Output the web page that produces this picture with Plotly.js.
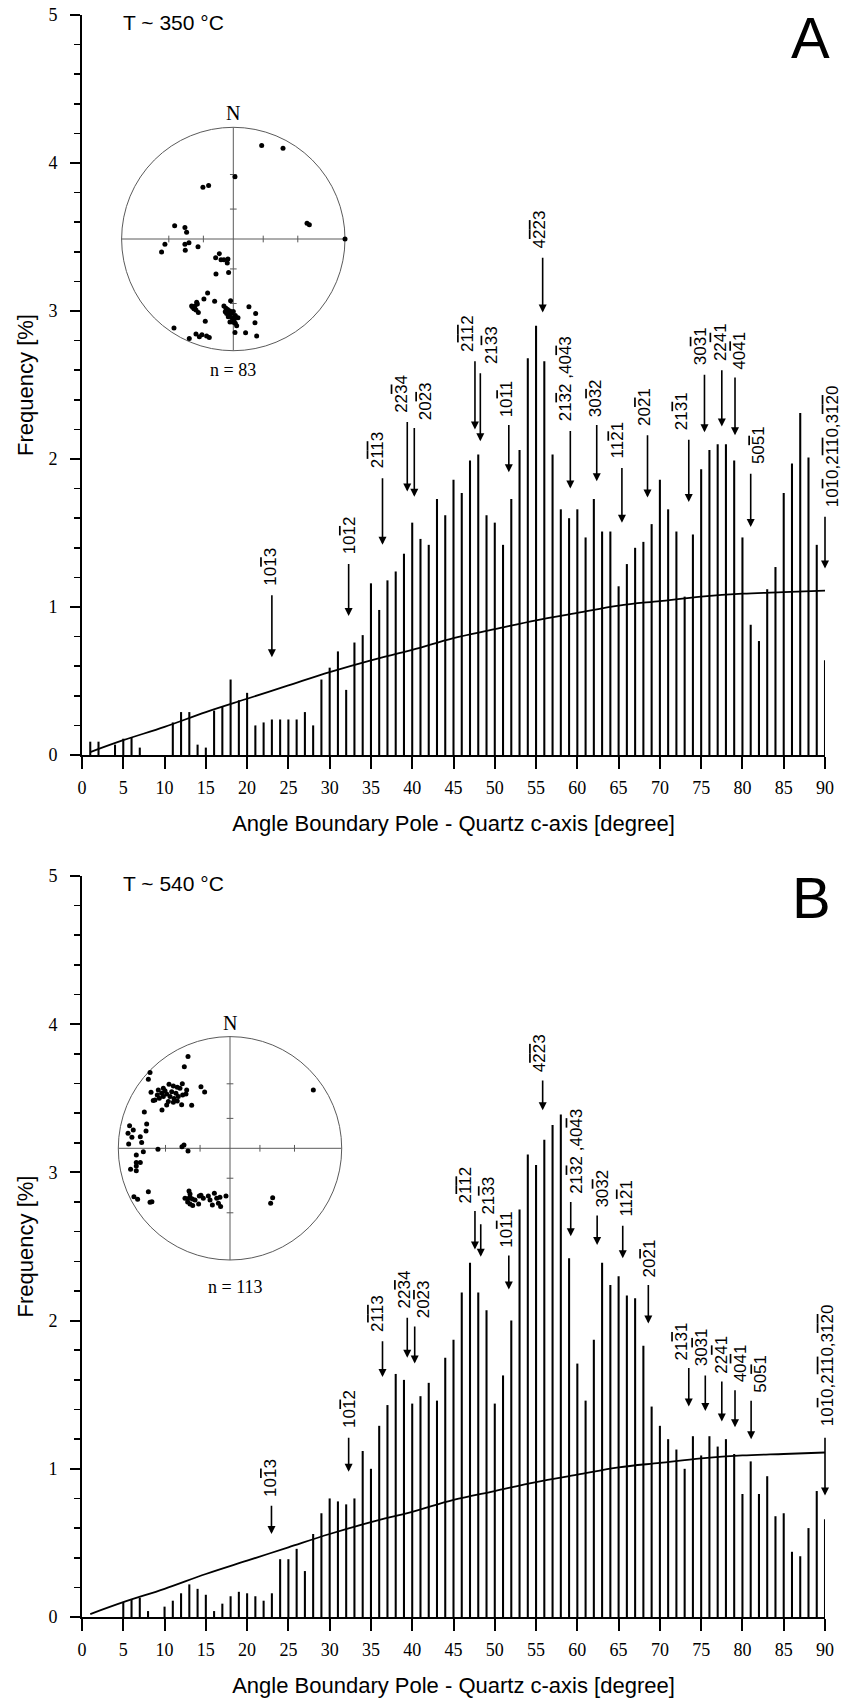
<!DOCTYPE html>
<html>
<head>
<meta charset="utf-8">
<script src="https://cdn.plot.ly/plotly-3.0.1.min.js"></script>
<style>html,body{margin:0;padding:0;background:#fff}</style>
</head>
<body>
<div id="chart" style="width:842px;height:1702px"></div>
<script>
// ---------------- DATA ----------------
const angles = [1,2,3,4,5,6,7,8,9,10,11,12,13,14,15,16,17,18,19,20,21,22,23,24,25,26,27,28,29,30,
  31,32,33,34,35,36,37,38,39,40,41,42,43,44,45,46,47,48,49,50,51,52,53,54,55,56,57,58,59,60,
  61,62,63,64,65,66,67,68,69,70,71,72,73,74,75,76,77,78,79,80,81,82,83,84,85,86,87,88,89,90];

// Panel A: T ~ 350 °C (frequency in %)
const freqA = [0.09,0.09,0,0.07,0.11,0.12,0.05,0,0,0,0.22,0.29,0.29,0.07,0.05,0.30,0.33,0.51,0.37,0.42,
  0.20,0.22,0.24,0.24,0.24,0.24,0.29,0.20,0.51,0.59,0.70,0.44,0.76,0.81,1.16,0.98,1.18,1.24,1.36,1.57,
  1.46,1.42,1.73,1.62,1.86,1.77,1.99,2.03,1.62,1.57,1.42,1.73,2.06,2.68,2.90,2.66,2.03,1.66,1.60,1.66,
  1.47,1.73,1.51,1.51,1.14,1.29,1.40,1.44,1.56,1.86,1.66,1.51,1.07,1.49,1.93,2.06,2.10,2.10,1.99,1.47,
  0.88,0.77,1.12,1.27,1.77,1.97,2.31,2.01,1.42,0.64];

// Panel B: T ~ 540 °C (frequency in %)
const freqB = [0,0,0,0,0.10,0.12,0.13,0.04,0,0.07,0.11,0.16,0.22,0.19,0.15,0.04,0.09,0.14,0.17,0.16,
  0.14,0.11,0.16,0.39,0.39,0.46,0.31,0.56,0.70,0.80,0.78,0.76,0.80,1.12,1.00,1.29,1.43,1.64,1.60,1.44,
  1.49,1.58,1.46,1.75,1.87,2.19,2.39,2.19,2.07,1.44,1.63,2.00,2.75,3.12,3.05,3.22,3.32,3.39,2.42,1.71,
  1.46,1.87,2.39,2.24,2.30,2.17,2.15,1.83,1.42,1.29,1.20,1.13,1.00,1.22,1.09,1.22,1.15,1.20,1.10,0.83,
  1.05,0.83,0.95,0.68,0.70,0.44,0.41,0.60,0.85,0.66];

// Random-distribution reference curve
const curveAngles = [1,5,10,15,20,25,30,35,40,45,50,55,60,65,70,75,80,85,90];
const curveA = [0.02,0.10,0.19,0.29,0.38,0.47,0.56,0.64,0.71,0.79,0.85,0.91,0.96,1.01,1.04,1.07,1.09,1.10,1.11];
const curveB = [0.02,0.10,0.19,0.29,0.38,0.47,0.56,0.64,0.71,0.79,0.85,0.91,0.96,1.01,1.04,1.07,1.09,1.10,1.11];

// Crystal plane labels (Miller-Bravais indices; a combining macron marks a negative index)
const M = '\u0304';
const planeLabels = [
  '101'+M+'3', '101'+M+'2', '21'+M+'1'+M+'3', '223'+M+'4', '202'+M+'3',
  '21'+M+'1'+M+'2', '213'+M+'3', '101'+M+'1', '42'+M+'2'+M+'3', '213'+M+'2 ,404'+M+'3',
  '303'+M+'2', '112'+M+'1', '202'+M+'1', '213'+M+'1', '303'+M+'1',
  '224'+M+'1', '404'+M+'1', '505'+M+'1', '101'+M+'0,21'+M+'1'+M+'0,31'+M+'2'+M+'0'
];
const planeAnglesA = [23.0,32.3,36.4,39.4,40.25,47.6,48.25,51.7,55.8,59.15,62.35,65.4,68.5,73.5,75.4,77.5,79.1,81.0,90];
const planeAnglesB = [22.95,32.3,36.4,39.4,40.3,47.6,48.3,51.7,55.8,59.2,62.4,65.5,68.6,73.5,75.5,77.5,79.1,81.05,90];

// Pole figures (stereographic, unit circle coords)
const stereoA = [[0.254,0.836],[0.445,0.812],[0.015,0.558],[-0.272,0.463],[-0.221,0.478],[0.660,0.140],[0.681,0.128],[1.000,0.000],
  [-0.525,0.119],[-0.433,0.104],[-0.418,0.060],[-0.612,-0.048],[-0.642,-0.116],[-0.433,-0.048],[-0.397,-0.033],[-0.430,-0.101],
  [-0.316,-0.069],[-0.125,-0.131],[-0.158,-0.167],[-0.110,-0.185],[-0.084,-0.185],[-0.048,-0.179],[-0.054,-0.215],[-0.155,-0.313],
  [-0.042,-0.299],[-0.230,-0.484],[-0.263,-0.537],[-0.167,-0.558],[-0.328,-0.567],[-0.364,-0.612],[-0.343,-0.600],[-0.322,-0.582],
  [-0.313,-0.657],[-0.352,-0.624],[-0.251,-0.737],[-0.024,-0.552],[-0.084,-0.600],[-0.072,-0.651],[-0.051,-0.630],[-0.030,-0.645],
  [0.000,-0.648],[-0.036,-0.681],[-0.009,-0.710],[0.018,-0.684],[0.042,-0.704],[-0.030,-0.743],[0.000,-0.746],[0.030,-0.776],
  [0.018,-0.755],[0.140,-0.606],[0.200,-0.666],[0.194,-0.749],[0.015,-0.836],[0.110,-0.839],[0.209,-0.869],[-0.531,-0.797],
  [-0.394,-0.890],[-0.334,-0.851],[-0.304,-0.875],[-0.281,-0.857],[-0.239,-0.869],[-0.215,-0.881],[-0.060,-0.666],[-0.045,-0.696],
  [-0.015,-0.666],[-0.066,-0.621],[0.009,-0.719],[-0.373,-0.600],[-0.334,-0.636]];
const stereoB = [[-0.376,0.821],[-0.409,0.731],[-0.716,0.678],[-0.731,0.618],[0.746,0.522],[-0.260,0.552],[-0.227,0.504],
  [-0.707,0.501],[-0.642,0.522],[-0.597,0.537],[-0.546,0.573],[-0.507,0.558],[-0.472,0.546],[-0.427,0.579],[-0.388,0.522],
  [-0.672,0.433],[-0.633,0.448],[-0.597,0.463],[-0.567,0.487],[-0.537,0.463],[-0.501,0.445],[-0.463,0.463],[-0.424,0.478],
  [-0.394,0.487],[-0.651,0.478],[-0.612,0.493],[-0.582,0.516],[-0.522,0.507],[-0.484,0.493],[-0.448,0.537],[-0.687,0.427],
  [-0.567,0.388],[-0.507,0.412],[-0.472,0.424],[-0.433,0.391],[-0.343,0.385],[-0.609,0.343],[-0.552,0.418],
  [-0.767,0.325],[-0.746,0.218],[-0.899,0.203],[-0.866,0.164],[-0.913,0.134],[-0.878,0.099],[-0.803,0.104],[-0.752,0.155],
  [-0.907,0.039],[-0.791,0.051],[-0.645,-0.009],[-0.430,0.015],[-0.412,0.030],[-0.376,-0.024],[-0.776,-0.030],[-0.839,-0.060],
  [-0.839,-0.128],[-0.803,-0.128],[-0.890,-0.188],[-0.839,-0.158],[-0.839,-0.200],
  [-0.860,-0.433],[-0.827,-0.457],[-0.731,-0.388],[-0.716,-0.484],[-0.699,-0.478],
  [-0.367,-0.382],[-0.358,-0.409],[-0.403,-0.448],[-0.379,-0.451],[-0.358,-0.439],[-0.337,-0.454],[-0.313,-0.463],[-0.379,-0.481],
  [-0.358,-0.499],[-0.334,-0.513],[-0.275,-0.427],[-0.260,-0.421],[-0.281,-0.499],[-0.194,-0.427],[-0.179,-0.463],[-0.140,-0.403],
  [-0.158,-0.507],[-0.104,-0.493],[-0.090,-0.439],[-0.084,-0.522],[-0.036,-0.427],[-0.119,-0.448],[-0.239,-0.448],
  [0.364,-0.493],[0.382,-0.442]];
const stereoTickAngles = [30, 60];

// ---------------- LAYOUT GEOMETRY (positions only) ----------------
const arrowTipA  = [0.66,0.94,1.42,1.78,1.745,2.20,2.12,1.91,2.99,1.80,1.85,1.57,1.74,1.71,2.18,2.22,2.16,1.54,1.26];
const arrowTailA = [1.09,1.30,1.88,2.26,2.22,2.67,2.59,2.24,3.37,2.20,2.24,1.95,2.17,2.14,2.58,2.61,2.56,1.91,1.62];
const labelBaseA = [1.13,1.34,1.92,2.30,2.25,2.71,2.63,2.27,3.41,2.24,2.27,1.99,2.21,2.18,2.62,2.65,2.59,1.95,1.66];
const labelShiftA = [-1,1,-5.5,-6,11,-7.5,11,-2,-3.5,-4,-1.5,-3.5,-2.5,-7,-4.5,-1.5,5,8,7];
const arrowTipB  = [0.56,0.98,1.62,1.75,1.71,2.48,2.43,2.21,3.42,2.57,2.51,2.42,1.98,1.42,1.39,1.32,1.28,1.20,0.82];
const arrowTailB = [0.76,1.22,1.87,2.03,1.97,2.75,2.66,2.45,3.63,2.81,2.72,2.65,2.25,1.69,1.64,1.60,1.54,1.47,1.22];
const labelBaseB = [0.80,1.26,1.91,2.07,2.00,2.78,2.70,2.48,3.66,2.84,2.75,2.69,2.28,1.72,1.68,1.63,1.57,1.50,1.27];
const labelShiftB = [-1,1,-5,-3,9,-9,8,-2,-3,5.5,5,4,1,-7.5,-4,-0.5,5,10,2.5];

const W = 842, H = 1702;
const MG = {l: 82, r: 17, t: 15, b: 85};
const PW = W - MG.l - MG.r, PH = H - MG.t - MG.b;
const px = x => (x - MG.l) / PW;
const py = y => (H - MG.b - y) / PH;

const SANS = 'Liberation Sans, Arial, sans-serif';
const SERIF = 'Liberation Serif, Times New Roman, serif';
const R = 111.7, PAD = 1.05;
function insetDomain(cx, cy) {
  const h = R * PAD;
  return {x: [px(cx - h), px(cx + h)], y: [py(cy + h), py(cy - h)]};
}
const insA = insetDomain(233.3, 239.0);
const insB = insetDomain(230.0, 1148.3);

function mainX(anchor) {
  return {
    anchor: anchor, range: [0, 90], tick0: 0, dtick: 5, ticks: 'outside', ticklen: 12, tickwidth: 2,
    tickcolor: '#000', showline: true, linewidth: 2, linecolor: '#000', showgrid: false, zeroline: false,
    tickfont: {family: SERIF, size: 18, color: '#000'}, ticklabelstandoff: 3,
    title: {text: 'Angle Boundary Pole - Quartz c-axis [degree]', font: {family: SANS, size: 22, color: '#000'}, standoff: 19}
  };
}
function mainY(anchor, dom) {
  return {
    anchor: anchor, domain: dom, range: [0, 5], tick0: 0, dtick: 1, ticks: 'outside', ticklen: 10, tickwidth: 2,
    tickcolor: '#000', showline: true, linewidth: 2, linecolor: '#000', showgrid: false, zeroline: false,
    minor: {dtick: 0.2, ticklen: 6, tickwidth: 1.6, tickcolor: '#000', ticks: 'outside', showgrid: false},
    tickfont: {family: SERIF, size: 18, color: '#000'}, ticklabelstandoff: 9,
    title: {text: 'Frequency [%]', font: {family: SANS, size: 22, color: '#000'}, standoff: 9}
  };
}
function insetAxis(anchor, dom) {
  return {anchor: anchor, domain: dom, range: [-PAD, PAD], visible: false, fixedrange: true};
}

// ---------------- TRACES ----------------
const traces = [
  {type: 'bar', x: angles, y: freqA, xaxis: 'x', yaxis: 'y', width: 0.25, cliponaxis: false,
   marker: {color: '#000', line: {width: 0}}, hoverinfo: 'skip'},
  {type: 'scatter', mode: 'lines', x: curveAngles, y: curveA, xaxis: 'x', yaxis: 'y',
   line: {color: '#000', width: 1.8, shape: 'spline', smoothing: 1}, hoverinfo: 'skip'},
  {type: 'bar', x: angles, y: freqB, xaxis: 'x2', yaxis: 'y2', width: 0.25, cliponaxis: false,
   marker: {color: '#000', line: {width: 0}}, hoverinfo: 'skip'},
  {type: 'scatter', mode: 'lines', x: curveAngles, y: curveB, xaxis: 'x2', yaxis: 'y2',
   line: {color: '#000', width: 1.8, shape: 'spline', smoothing: 1}, hoverinfo: 'skip'},
  {type: 'scatter', mode: 'markers', x: stereoA.map(p => p[0]), y: stereoA.map(p => p[1]), xaxis: 'x3', yaxis: 'y3',
   marker: {color: '#000', size: 5}, cliponaxis: false, hoverinfo: 'skip'},
  {type: 'scatter', mode: 'markers', x: stereoB.map(p => p[0]), y: stereoB.map(p => p[1]), xaxis: 'x4', yaxis: 'y4',
   marker: {color: '#000', size: 5}, cliponaxis: false, hoverinfo: 'skip'}
];

// ---------------- SHAPES (pole-figure frame) ----------------
function stereoShapes(xr, yr) {
  const ln = {color: '#5a5a5a', width: 1};
  const s = [
    {type: 'circle', xref: xr, yref: yr, x0: -1, y0: -1, x1: 1, y1: 1, line: ln, layer: 'below'},
    {type: 'line', xref: xr, yref: yr, x0: -1, y0: 0, x1: 1, y1: 0, line: ln, layer: 'below'},
    {type: 'line', xref: xr, yref: yr, x0: 0, y0: -1, x1: 0, y1: 1, line: ln, layer: 'below'}
  ];
  stereoTickAngles.forEach(a => {
    const r = Math.tan(a * Math.PI / 360);
    [-1, 1].forEach(sg => {
      s.push({type: 'line', xref: xr, yref: yr, x0: sg * r, x1: sg * r, y0: -0.03, y1: 0.03, line: ln, layer: 'below'});
      s.push({type: 'line', xref: xr, yref: yr, y0: sg * r, y1: sg * r, x0: -0.03, x1: 0.03, line: ln, layer: 'below'});
    });
  });
  return s;
}

// ---------------- ANNOTATIONS ----------------
// negative index: draw the macron as an overline on the digit
const withBars = s => s.replace(/(.)\u0304/g, '<span style="text-decoration:overline">$1</span>');

function planeAnnotations(xr, yr, ang, tip, tail, base, shift) {
  const out = [];
  planeLabels.forEach((t, i) => {
    out.push({xref: xr, yref: yr, axref: xr, ayref: yr, x: ang[i], y: tip[i], ax: ang[i], ay: tail[i],
      text: '', showarrow: true, arrowhead: 2, arrowsize: 1, arrowwidth: 1.6, arrowcolor: '#000', standoff: 0,
      font: {size: 1}});
    out.push({xref: xr, yref: yr, x: ang[i], y: base[i], xshift: shift[i], text: withBars(t), showarrow: false,
      textangle: -90, xanchor: 'center', yanchor: 'bottom', font: {family: SANS, size: 17, color: '#000'}});
  });
  return out;
}
function paperText(x, y, text, font, xanchor) {
  return {xref: 'paper', yref: 'paper', x: px(x), y: py(y), text: text, showarrow: false,
    xanchor: xanchor || 'center', yanchor: 'middle', font: font};
}

const annotations = []
  .concat(planeAnnotations('x', 'y', planeAnglesA, arrowTipA, arrowTailA, labelBaseA, labelShiftA))
  .concat(planeAnnotations('x2', 'y2', planeAnglesB, arrowTipB, arrowTailB, labelBaseB, labelShiftB))
  .concat([
    paperText(121, 22, 'T ~ 350 °C', {family: SANS, size: 21, color: '#000'}, 'left'),
    paperText(121, 883, 'T ~ 540 °C', {family: SANS, size: 21, color: '#000'}, 'left'),
    paperText(810, 37, 'A', {family: SANS, size: 58, color: '#000'}),
    paperText(811, 897, 'B', {family: SANS, size: 58, color: '#000'}),
    paperText(233.3, 113.3, 'N', {family: SERIF, size: 20, color: '#000'}),
    paperText(233.3, 370, 'n = 83', {family: SERIF, size: 18, color: '#000'}),
    paperText(230, 1023.3, 'N', {family: SERIF, size: 20, color: '#000'}),
    paperText(235, 1286.7, 'n = 113', {family: SERIF, size: 18, color: '#000'})
  ]);

const layout = {
  width: W, height: H, margin: MG, paper_bgcolor: '#fff', plot_bgcolor: 'rgba(0,0,0,0)',
  showlegend: false, font: {family: SANS, color: '#000'},
  xaxis: mainX('y'), yaxis: mainY('x', [py(755), 1]),
  xaxis2: mainX('y2'), yaxis2: mainY('x2', [0, py(876)]),
  xaxis3: insetAxis('y3', insA.x), yaxis3: insetAxis('x3', insA.y),
  xaxis4: insetAxis('y4', insB.x), yaxis4: insetAxis('x4', insB.y),
  shapes: stereoShapes('x3', 'y3').concat(stereoShapes('x4', 'y4')),
  annotations: annotations
};

Plotly.newPlot('chart', traces, layout, {displayModeBar: false, staticPlot: true});
</script>
</body>
</html>
